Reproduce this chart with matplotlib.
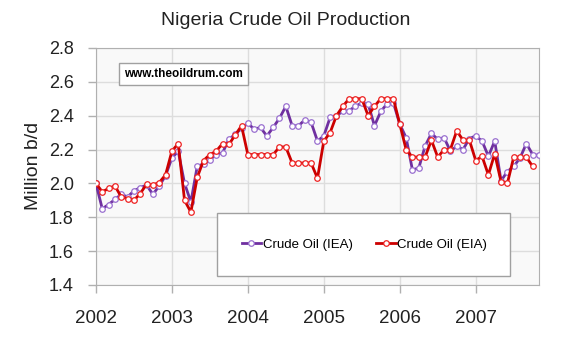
import matplotlib.pyplot as plt
import matplotlib.patches as mpatches
import numpy as np

plt.rcParams['font.family'] = ['Liberation Sans', 'DejaVu Sans']

# monthly values, Jan 2002 .. Nov 2007 (million barrels/day)
iea = [2.00, 1.85, 1.875, 1.905, 1.935, 1.92, 1.955, 1.975, 1.99, 1.935, 1.985, 2.045,
       2.15, 2.19, 2.00, 1.89, 2.10, 2.115, 2.14, 2.17, 2.18, 2.26, 2.29, 2.325,
       2.355, 2.32, 2.33, 2.28, 2.33, 2.385, 2.455, 2.34, 2.34, 2.375, 2.36, 2.25,
       2.28, 2.39, 2.40, 2.425, 2.43, 2.455, 2.475, 2.47, 2.34, 2.425, 2.47, 2.475,
       2.35, 2.27, 2.08, 2.09, 2.22, 2.295, 2.26, 2.27, 2.19, 2.22, 2.20, 2.265,
       2.28, 2.25, 2.16, 2.25, 2.015, 2.07, 2.10, 2.15, 2.235, 2.17, 2.165]

eia = [2.00, 1.95, 1.97, 1.985, 1.92, 1.91, 1.90, 1.94, 1.995, 1.99, 2.005, 2.05,
       2.19, 2.235, 1.90, 1.83, 2.035, 2.135, 2.17, 2.19, 2.235, 2.23, 2.285, 2.34,
       2.17, 2.17, 2.17, 2.17, 2.17, 2.215, 2.215, 2.12, 2.12, 2.12, 2.12, 2.03,
       2.25, 2.30, 2.40, 2.455, 2.50, 2.50, 2.50, 2.40, 2.455, 2.50, 2.50, 2.50,
       2.35, 2.20, 2.155, 2.155, 2.155, 2.255, 2.155, 2.20, 2.20, 2.31, 2.255, 2.255,
       2.135, 2.16, 2.05, 2.175, 2.01, 2.00, 2.155, 2.155, 2.155, 2.10]

years = ['2002', '2003', '2004', '2005', '2006', '2007']

fig = plt.figure(figsize=(5.71, 3.40), dpi=100)
ax = fig.add_axes([0.168, 0.162, 0.776, 0.697])
ax.set_facecolor('#f9f9f9')

x_iea = np.arange(len(iea))
x_eia = np.arange(len(eia))

ax.plot(x_iea, iea, color='#7030a0', lw=2, marker='o', ms=4,
        mfc='white', mec='#9a70d0', mew=0.9, label='Crude Oil (IEA)', zorder=3)
ax.plot(x_eia, eia, color='#cc0000', lw=2, marker='o', ms=4,
        mfc='white', mec='#ee2222', mew=0.9, label='Crude Oil (EIA)', zorder=4)

ax.set_xlim(0, len(iea) - 1)
ax.set_ylim(1.4, 2.8)
ax.set_yticks(np.arange(1.4, 2.81, 0.2))
ax.set_yticklabels(['%.1f' % v for v in np.arange(1.4, 2.81, 0.2)])
ax.set_xticks(np.arange(len(years)) * 12)
ax.set_xticklabels(years)
ax.grid(True, color='#dddddd', lw=1)
ax.set_axisbelow(True)
for s in ax.spines.values():
    s.set_color('#b0b0b0')
ax.tick_params(colors='#b0b0b0', labelcolor='#222222', length=6, width=1)
ax.tick_params(axis='y', labelsize=13, pad=10)
ax.tick_params(axis='x', labelsize=13.5, pad=12)

ax.set_ylabel('Million b/d', fontsize=14, labelpad=5, color='#222222')
fig.text(0.5, 0.94, 'Nigeria Crude Oil Production', fontsize=14,
         ha='center', va='center', color='#222222')

ax.text(0.063, 0.89, 'www.theoildrum.com', transform=ax.transAxes, fontsize=8.5,
        fontweight='bold', va='center',
        bbox=dict(boxstyle='square,pad=0.45', fc='white', ec='#a0a0a0', lw=1))

# legend box
box = mpatches.Rectangle((0.273, 0.038), 0.662, 0.266, transform=ax.transAxes,
                         fc='white', ec='#a0a0a0', lw=1, zorder=5)
ax.add_patch(box)
leg = ax.legend(loc='center', bbox_to_anchor=(0.606, 0.171), ncol=2, fontsize=9.5,
                frameon=False, handlelength=1.5, handletextpad=0.1, columnspacing=1.8)
leg.set_zorder(6)

fig.savefig('out.png', dpi=100)
